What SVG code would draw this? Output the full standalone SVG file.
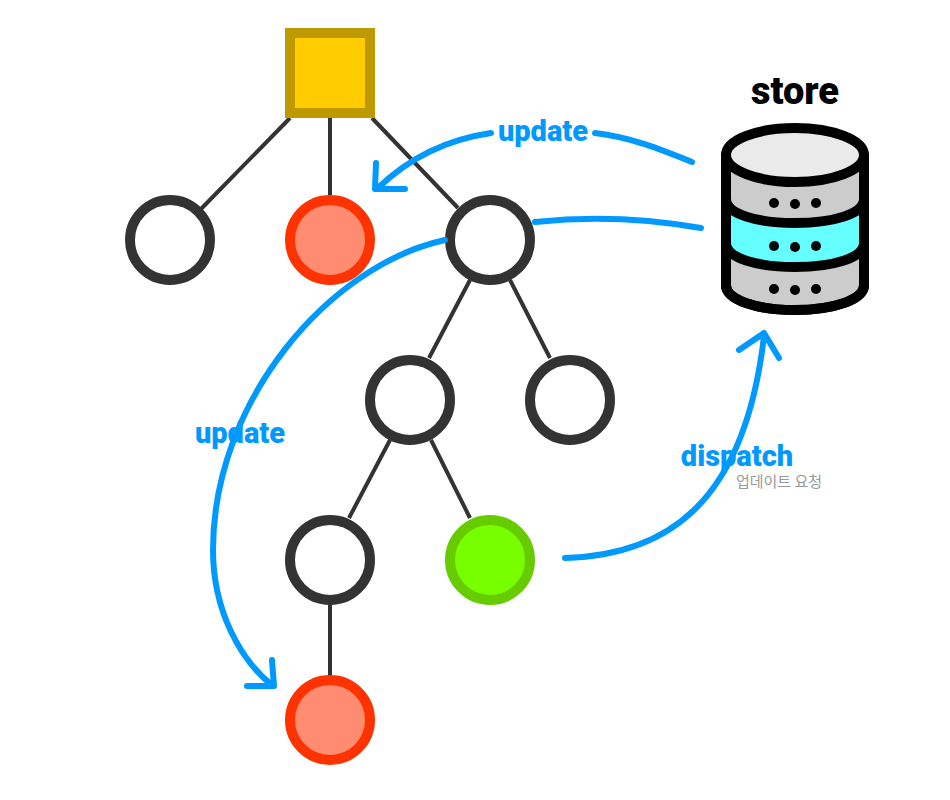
<svg xmlns="http://www.w3.org/2000/svg" width="950" height="800" viewBox="0 0 950 800">
<style>
.edge{stroke:#333;stroke-width:4;fill:none}
.n{stroke:#333;stroke-width:10;fill:#fff}
.red{stroke:#ff3300;stroke-width:10;fill:#ff8c70}
.flow{stroke:#0099ff;stroke-width:6;fill:none;stroke-linecap:round;stroke-linejoin:round}
.lbl{font-family:"Roboto","Noto Sans CJK KR",sans-serif;font-weight:900;font-size:29px;fill:#0099ff;text-anchor:middle}
.s{stroke:#000;stroke-width:10;stroke-linejoin:round}
.d{fill:#000}
</style>
<rect width="950" height="800" fill="#fff"/>
<g id="connectors">
<path class="edge" d="M290 118L200 210M330 118V195M372 118L458 208M470 280L429 358M510 280L550 358M390 440L349 518M431 440L470 518M330 600V680"/>
</g>
<g id="root"><rect x="290" y="33" width="80" height="80" fill="#ffcc00" stroke="#bf9900" stroke-width="10"/></g>
<g id="n1"><circle class="n" cx="170" cy="240" r="40"/></g>
<g id="n2"><circle class="red" cx="330" cy="240" r="40"/></g>
<g id="n3"><circle class="n" cx="490" cy="240" r="40"/></g>
<g id="n4"><circle class="n" cx="410" cy="400" r="40"/></g>
<g id="n5"><circle class="n" cx="570" cy="400" r="40"/></g>
<g id="n6"><circle class="n" cx="330" cy="560" r="40"/></g>
<g id="n7"><circle cx="490" cy="560" r="40" fill="#77ff00" stroke="#66cc00" stroke-width="10"/></g>
<g id="n8"><circle class="red" cx="330" cy="720" r="40"/></g>
<g id="flows">
<path class="flow" d="M491 133C450 139 410 157 378 188M376 163L375 189L405 189"/>
<path class="flow" d="M595 133C630 137 660 149 692 162"/>
<path class="flow" d="M445 240C330 265 213 400 213 550C213 610 240 660 273 686M247 686L274 686L272 660"/>
<path class="flow" d="M535 222C590 216 650 219 701 228"/>
<path class="flow" d="M565 558C670 555 745 500 764 336M739 350L764 333L779 358"/>
</g>
<g id="store">
<path class="s" fill="#cccccc" d="M726 155V285C726 300 757 310 795 310C833 310 864 300 864 285V155Z"/>
<path fill="#66ffff" d="M731 214C745 228 845 228 860 214V258C845 272 745 272 731 258Z"/>
<path class="s" fill="none" d="M726 199C726 214 757 223 795 223C833 223 864 214 864 199M726 243C726 258 757 267 795 267C833 267 864 258 864 243"/>
<path class="s" fill="none" d="M726 155V285C726 300 757 310 795 310C833 310 864 300 864 285V155"/>
<ellipse class="s" cx="795" cy="155" rx="69" ry="27" fill="#eaeaea"/>
<circle class="d" cx="774" cy="203" r="5"/><circle class="d" cx="795" cy="204" r="5"/><circle class="d" cx="816" cy="203" r="5"/>
<circle class="d" cx="774" cy="246" r="5"/><circle class="d" cx="795" cy="247" r="5"/><circle class="d" cx="816" cy="246" r="5"/>
<circle class="d" cx="774" cy="289" r="5"/><circle class="d" cx="795" cy="290" r="5"/><circle class="d" cx="816" cy="289" r="5"/>
<text x="795" y="104" text-anchor="middle" style="font-family:Roboto,sans-serif;font-weight:900;font-size:38px;fill:#000">store</text>
</g>
<text class="lbl" x="543" y="141">update</text>
<text class="lbl" x="240" y="443">update</text>
<text class="lbl" x="737" y="466">dispatch</text>
<text x="779" y="487" text-anchor="middle" style="font-family:'Noto Sans CJK KR',sans-serif;font-size:15px;fill:#999">업데이트 요청</text>
</svg>
